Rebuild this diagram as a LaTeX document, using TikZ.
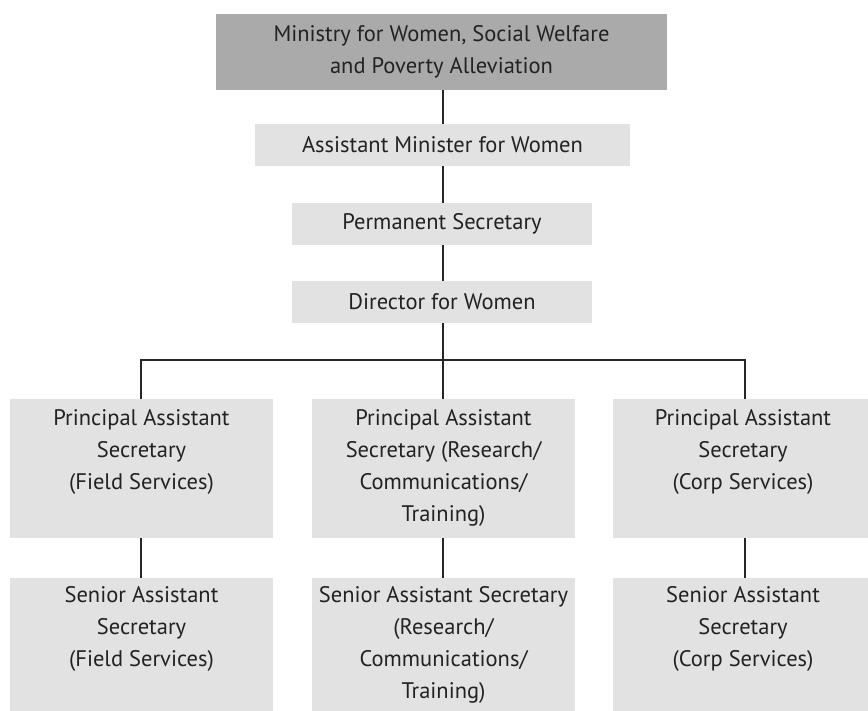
\documentclass[tikz,border=0pt]{standalone}
\usepackage{fontspec}
\setmainfont{PT Sans}
\begin{document}
\begin{tikzpicture}[x=1pt,y=-1pt,
  box/.style={draw=none, fill=boxgray, text=inkgray, inner sep=0pt, align=center,
    font=\fontsize{22.5}{32}\selectfont},
  topbox/.style={box, fill=topgray},
  label/.style={text=inkgray, inner sep=0pt, align=center, anchor=north,
    font=\fontsize{22.5}{32}\selectfont},
  link/.style={line width=1.8pt, draw=black!85}]
\definecolor{boxgray}{HTML}{E2E2E2}
\definecolor{topgray}{HTML}{AAAAAA}
\definecolor{inkgray}{HTML}{222222}
\useasboundingbox (0,0) rectangle (868,711);
\fill[white] (0,0) rectangle (868,711);

% upper chain
\node[topbox, minimum width=451pt, minimum height=76pt] (min) at (441.5,52)
  {Ministry for Women, Social Welfare\\and Poverty Alleviation};
\node[box, minimum width=375pt, minimum height=42pt] (asst) at (442.5,145)
  {Assistant Minister for Women};
\node[box, minimum width=300pt, minimum height=42pt] (perm) at (442,224)
  {Permanent Secretary};
\node[box, minimum width=300pt, minimum height=42pt] (dir) at (442,302)
  {Director for Women};

% principal assistant secretaries (boxes, then their text from the top)
\node[box, minimum width=263pt, minimum height=139pt] (pf) at (141.5,468.5) {};
\node[box, minimum width=263pt, minimum height=139pt] (pr) at (443.5,468.5) {};
\node[box, minimum width=256pt, minimum height=139pt] (pc) at (741,468.5) {};
\node[label] (pf-t) at (141.5,409)
  {Principal Assistant\\Secretary\\(Field Services)};
\node[label] (pr-t) at (443.5,409)
  {Principal Assistant\\Secretary (Research/\\Communications/\\Training)};
\node[label] (pc-t) at (743,409)
  {Principal Assistant\\Secretary\\(Corp Services)};

% senior assistant secretaries
\node[box, minimum width=263pt, minimum height=134pt] (sf) at (141.5,645) {};
\node[box, minimum width=263pt, minimum height=134pt] (sr) at (443.5,645) {};
\node[box, minimum width=256pt, minimum height=134pt] (sc) at (741,645) {};
\node[label] (sf-t) at (141.5,586)
  {Senior Assistant\\Secretary\\(Field Services)};
\node[label] (sr-t) at (443.5,586)
  {Senior Assistant Secretary\\(Research/\\Communications/\\Training)};
\node[label] (sc-t) at (743,586)
  {Senior Assistant\\Secretary\\(Corp Services)};

% connectors
\coordinate (bus) at (443,360);
\draw[link] (min.south -| 443,0) -- (asst.north -| 443,0);
\draw[link] (asst.south -| 443,0) -- (perm.north -| 443,0);
\draw[link] (perm.south -| 443,0) -- (dir.north -| 443,0);
\draw[link] (dir.south -| 443,0) -- (bus);
\draw[link] (pf.north -| 141,0) |- (bus) -| (pc.north -| 745,0);
\draw[link] (bus) -- (pr.north -| 443,0);
\draw[link] (pf.south -| 141,0) -- (sf.north -| 141,0);
\draw[link] (pr.south -| 443,0) -- (sr.north -| 443,0);
\draw[link] (pc.south -| 745,0) -- (sc.north -| 745,0);
\end{tikzpicture}
\end{document}
